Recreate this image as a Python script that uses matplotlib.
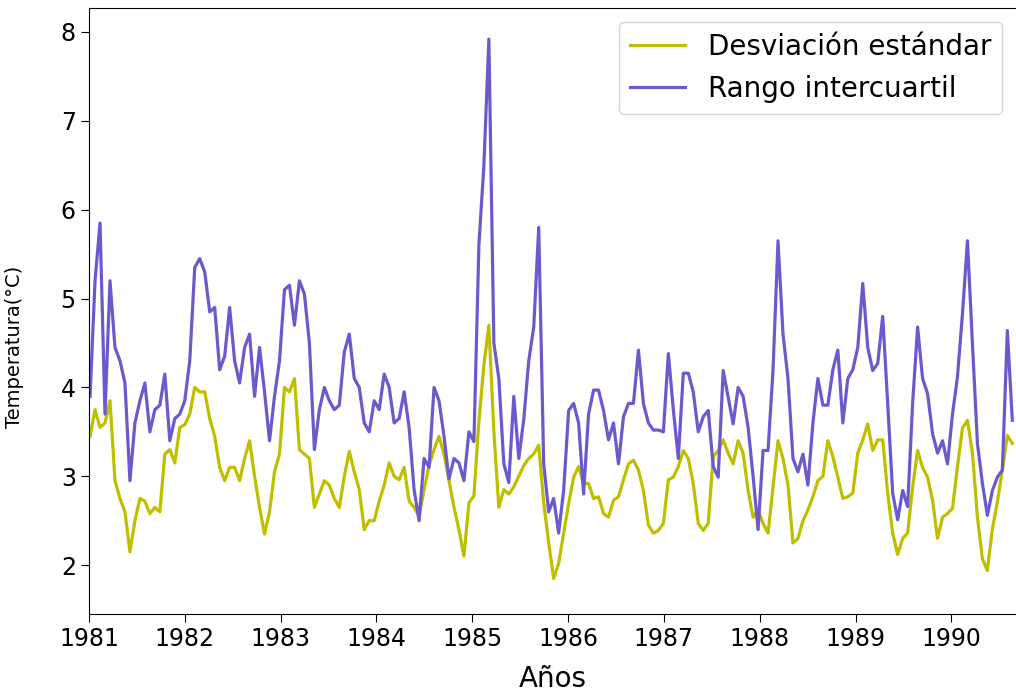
import matplotlib
matplotlib.use("Agg")
import matplotlib.pyplot as plt
import matplotlib.dates as mdates
import pandas as pd

# values, one every ~19 days starting early Jan 1981
rango_iqr = [
    3.9, 5.2, 5.85, 3.7, 5.2, 4.45, 4.3, 4.05, 2.95, 3.6,
    3.85, 4.05, 3.5, 3.75, 3.8, 4.15, 3.4, 3.65, 3.7, 3.85,
    4.3, 5.35, 5.45, 5.3, 4.85, 4.9, 4.2, 4.35, 4.9, 4.3,
    4.05, 4.45, 4.6, 3.9, 4.45, 3.95, 3.4, 3.9, 4.3, 5.1,
    5.15, 4.7, 5.2, 5.05, 4.5, 3.3, 3.75, 4.0, 3.85, 3.75,
    3.8, 4.4, 4.6, 4.1, 4.0, 3.6, 3.5, 3.85, 3.75, 4.15,
    4.0, 3.6, 3.65, 3.95, 3.55, 2.85, 2.5, 3.2, 3.1, 4.0,
    3.85, 3.45, 2.97, 3.2, 3.15, 2.95, 3.5, 3.39, 5.6, 6.5,
    7.92, 4.5, 4.1, 3.14, 2.93, 3.9, 3.2, 3.64, 4.3, 4.68,
    5.8, 3.14, 2.6, 2.75, 2.36, 2.84, 3.74, 3.82, 3.6, 2.8,
    3.7, 3.97, 3.97, 3.74, 3.41, 3.6, 3.14, 3.67, 3.82, 3.82,
    4.42, 3.82, 3.6, 3.52, 3.52, 3.5, 4.38, 3.75, 3.2, 4.16,
    4.16, 3.95, 3.5, 3.67, 3.74, 3.11, 2.99, 4.19, 3.89, 3.59,
    4.0, 3.9, 3.55, 3.0, 2.4, 3.29, 3.29, 4.2, 5.65, 4.6,
    4.1, 3.2, 3.05, 3.25, 2.9, 3.6, 4.1, 3.8, 3.8, 4.2,
    4.42, 3.6, 4.1, 4.2, 4.45, 5.17, 4.45, 4.19, 4.27, 4.8,
    3.82, 2.81, 2.51, 2.84, 2.66, 3.82, 4.68, 4.1, 3.93, 3.48,
    3.26, 3.4, 3.14, 3.7, 4.12, 4.83, 5.65, 4.49, 3.37, 2.92,
    2.56, 2.84, 2.99, 3.07, 4.64, 3.63,
]
desv_std = [
    3.45, 3.75, 3.55, 3.6, 3.85, 2.95, 2.75, 2.6, 2.15, 2.5,
    2.75, 2.72, 2.58, 2.65, 2.6, 3.25, 3.3, 3.15, 3.55, 3.58,
    3.7, 4.0, 3.95, 3.95, 3.65, 3.45, 3.1, 2.95, 3.1, 3.1,
    2.95, 3.2, 3.4, 3.0, 2.65, 2.35, 2.6, 3.05, 3.25, 4.0,
    3.95, 4.1, 3.3, 3.25, 3.2, 2.65, 2.8, 2.95, 2.9, 2.75,
    2.65, 3.0, 3.28, 3.05, 2.85, 2.4, 2.5, 2.5, 2.72, 2.9,
    3.15, 3.0, 2.96, 3.1, 2.72, 2.65, 2.55, 2.85, 3.12, 3.3,
    3.45, 3.25, 2.95, 2.65, 2.4, 2.1, 2.7, 2.78, 3.62, 4.25,
    4.7, 3.5, 2.65, 2.85, 2.8, 2.88, 3.0, 3.12, 3.2, 3.25,
    3.35, 2.7, 2.25, 1.85, 2.02, 2.36, 2.69, 2.99, 3.11, 2.92,
    2.92, 2.75, 2.77, 2.58, 2.54, 2.73, 2.77, 2.96, 3.14, 3.18,
    3.07, 2.84, 2.45, 2.36, 2.39, 2.47, 2.96, 2.99, 3.11, 3.29,
    3.2, 2.92, 2.47, 2.39, 2.47, 3.22, 3.29, 3.41, 3.26, 3.14,
    3.4, 3.26, 2.84, 2.54, 2.62, 2.47, 2.36, 2.88, 3.4, 3.2,
    2.9, 2.25, 2.3, 2.5, 2.62, 2.77, 2.95, 3.0, 3.4, 3.22,
    2.99, 2.75, 2.77, 2.81, 3.26, 3.41, 3.59, 3.29, 3.41, 3.41,
    2.81, 2.36, 2.12, 2.3, 2.36, 2.88, 3.29, 3.1, 2.99, 2.73,
    2.3, 2.54, 2.58, 2.64, 3.11, 3.54, 3.63, 3.26, 2.54, 2.07,
    1.94, 2.41, 2.71, 3.07, 3.46, 3.37,
]
fechas = pd.date_range("1981-01-05", periods=len(rango_iqr), freq="19D")

fig = plt.figure(figsize=(10.16, 6.99), dpi=100)
ax = fig.add_axes([89 / 1016, 85 / 699, 927 / 1016, 606 / 699])

ax.plot(fechas, desv_std, color="#bfbf00", lw=2.3, label="Desviación estándar")
ax.plot(fechas, rango_iqr, color="slateblue", lw=2.3, label="Rango intercuartil")

ax.set_xlim(pd.Timestamp("1981-01-01"), pd.Timestamp("1990-09-04"))
ax.set_ylim(1.45, 8.27)
ax.xaxis.set_major_locator(mdates.YearLocator())
ax.xaxis.set_major_formatter(mdates.DateFormatter("%Y"))
ax.spines["right"].set_visible(False)
ax.tick_params(labelsize=17, length=6)
ax.set_xlabel("Años", fontsize=20, labelpad=10)
ax.set_ylabel("Temperatura(°C)", fontsize=14)
ax.yaxis.set_label_coords(-0.07, 0.44)
ax.legend(loc="upper right", fontsize=20)

fig.savefig("out.png", dpi=100)
